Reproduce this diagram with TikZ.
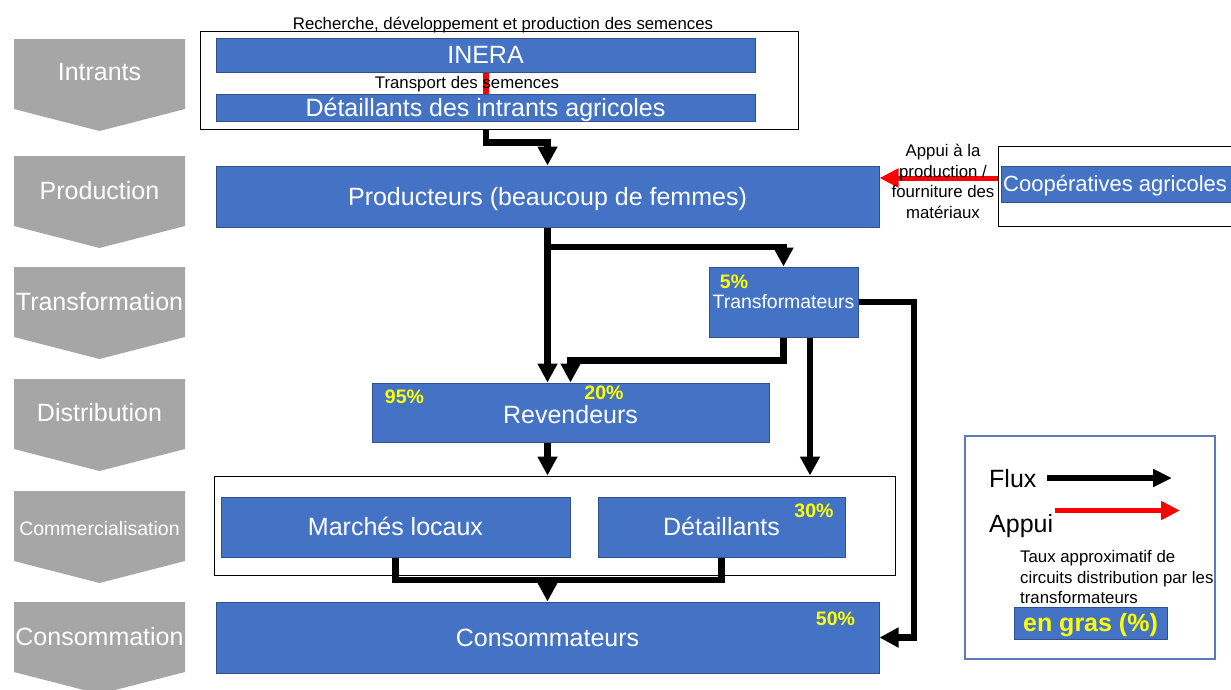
\documentclass[tikz,border=0pt]{standalone}
\usepackage{fontspec}
\setmainfont{Liberation Sans}
\usetikzlibrary{arrows.meta}
\definecolor{boxblue}{HTML}{4472C4}
\definecolor{boxedge}{HTML}{2F528F}
\definecolor{chevgray}{HTML}{A6A6A6}
\definecolor{pctyellow}{HTML}{FFFF00}
\definecolor{legendedge}{HTML}{5B7BB5}

\tikzset{
  actor/.style={draw=boxedge, line width=1pt, fill=boxblue, text=white, inner sep=0pt,
    font=\fontsize{25}{30}\selectfont, text height=17.9pt, text depth=0pt},
  groupframe/.style={draw=black, line width=1pt, fill=white, inner sep=0pt},
  flux/.style={draw=black, line width=6.5pt, line join=miter, -{Triangle[width=19pt,length=19pt]}},
  fluxline/.style={draw=black, line width=6.5pt, line join=miter},
  appui/.style={draw=red, line width=5pt, -{Triangle[width=18pt,length=19pt]}},
  pct/.style={text=pctyellow, inner sep=0pt, font=\fontsize{19.5}{23}\selectfont\bfseries,
    text height=14pt, text depth=0pt},
  smalltext/.style={text=black, inner sep=0pt, font=\fontsize{16.8}{20.5}\selectfont},
  smallline/.style={smalltext, text height=12pt, text depth=0pt},
  stagelabel/.style={text=white, inner sep=0pt, font=\fontsize{25}{30}\selectfont,
    text height=17.9pt, text depth=0pt},
}

\begin{document}
\begin{tikzpicture}[x=1pt,y=-1pt]
\useasboundingbox (0,0) rectangle (1231,689);
\clip (0,0) rectangle (1231,689);
\fill[white] (0,0) rectangle (1231,689);

% value-chain stages on the left
\foreach \t in {39,156,267,379,491,602}{
  \fill[chevgray] (14,\t) -- (185,\t) -- (185,\t+70) -- (99.5,\t+92) -- (14,\t+70) -- cycle;
}
\node[stagelabel] (sIntrants) at (99.5,72) {Intrants};
\node[stagelabel] (sProduction) at (99.5,191) {Production};
\node[stagelabel] (sTransformation) at (99.5,302) {Transformation};
\node[stagelabel] (sDistribution) at (99.5,413) {Distribution};
\node[stagelabel, font=\fontsize{19.5}{23}\selectfont, text height=14pt] (sCommercialisation) at (99.5,528) {Commercialisation};
\node[stagelabel] (sConsommation) at (99.5,637) {Consommation};

% inputs
\node[groupframe, minimum width=598pt, minimum height=98pt] (intrantsbox) at (499,80) {};
\node[smallline] (recherche) at (503,23.5) {Recherche, développement et production des semences};
\node[actor, minimum width=539pt, minimum height=34pt] (inera) at (485.5,55) {INERA};
\node[actor, minimum width=539pt, minimum height=27pt] (detint) at (485.5,107.5) {Détaillants des intrants agricoles};
\coordinate (seedx) at (486,0);
\draw[red, line width=6pt] (inera.south -| seedx) -- (detint.north -| seedx);
\node[smallline] (transport) at (467,82.5) {Transport des semences};

% production
\node[actor, minimum width=663pt, minimum height=61pt] (prod) at (547.5,196.5) {Producteurs (beaucoup de femmes)};

% cooperatives
\node[groupframe, minimum width=242pt, minimum height=80pt] (coopframe) at (1119,186) {};
\node[actor, minimum width=239pt, minimum height=36pt] (coop) at (1120.5,184) {};
\node[text=white, inner sep=0pt, anchor=west, font=\fontsize{22}{26}\selectfont,
  text height=15.75pt, text depth=0pt] (cooplabel) at (1003,184) {Coopératives agricoles};
\coordinate (appuiy) at (0,178);
\draw[appui] (coopframe.west |- appuiy) -- (prod.east |- appuiy);
\node[smalltext, align=center] (appuilabel) at (943,181.5) {Appui à la\\production /\\fourniture des\\matériaux};

% processing
\node[actor, minimum width=149pt, minimum height=70pt, font=\fontsize{19.4}{23}\selectfont, text height=13.9pt] (trans) at (783.5,302) {Transformateurs};
\node[pct] (p5) at (734,281.5) {5\%};

% distribution (label sits a little below the box centre)
\node[actor, minimum width=397pt, minimum height=59pt, text height=22.4pt] (rev) at (570.5,412.5) {Revendeurs};
\node[pct] (p95) at (404.5,396.5) {95\%};
\node[pct] (p20) at (604,392.5) {20\%};

% marketing
\node[groupframe, minimum width=681pt, minimum height=99pt] (commframe) at (554.5,525.5) {};
\node[actor, minimum width=349pt, minimum height=60pt] (marches) at (395.5,527) {Marchés locaux};
\node[actor, minimum width=247pt, minimum height=60pt] (detail) at (721.5,527) {Détaillants};
\node[pct] (p30) at (814,510) {30\%};

% consumption
\node[actor, minimum width=663pt, minimum height=71pt] (cons) at (547.5,637.5) {Consommateurs};
\node[pct] (p50) at (835.5,618.5) {50\%};

% flows
\draw[flux] (intrantsbox.south -| seedx) -- ++(0,13) -| (prod.north);
\draw[flux] (prod.south) -- (prod.south |- rev.north);
\coordinate (branchy) at (0,247);
\draw[flux] (prod.south |- branchy) -| (trans.north);
\draw[flux] (trans.south) -- ++(0,23) -| (rev.north);
\coordinate (transx) at (810,0);
\draw[flux] (trans.south -| transx) -- (commframe.north -| transx);
\coordinate (rightx) at (914,0);
\draw[flux] (trans.east) -- (trans.east -| rightx) |- (cons.east);
\draw[flux] (rev.south -| prod.south) -- (commframe.north -| prod.south);
\coordinate (joiny) at (0,580);
\draw[fluxline] (marches.south) -- (marches.south |- joiny) -- (detail.south |- joiny) -- (detail.south);
\draw[flux] (cons.north |- joiny) -- (cons.north);

% legend
\node[draw=legendedge, line width=1.5pt, inner sep=0pt, minimum width=250pt, minimum height=223pt] (legend) at (1090,547.5) {};
\node[text=black, inner sep=0pt, anchor=west, font=\fontsize{25}{30}\selectfont, text height=17.9pt, text depth=0pt] (lflux) at (989,478.5) {Flux};
\coordinate (lfluxa) at (1047,478);
\coordinate (lfluxb) at (1172,478);
\draw[draw=black, line width=6.5pt, -{Triangle[width=17pt,length=19pt]}] (lfluxa) -- (lfluxb);
\node[text=black, inner sep=0pt, anchor=west, font=\fontsize{25}{30}\selectfont, text height=17.9pt, text depth=0pt] (lappui) at (989,523.5) {Appui};
\coordinate (lappuia) at (1055,510.5);
\coordinate (lappuib) at (1180,510.5);
\draw[appui] (lappuia) -- (lappuib);
\node[smalltext, align=left, anchor=west] (ltaux) at (1020,577) {Taux approximatif de\\circuits distribution par les\\transformateurs};
\node[actor, minimum width=153pt, minimum height=32pt, text=pctyellow, font=\fontsize{25}{30}\selectfont\bfseries] (lgras) at (1090.5,623) {en gras (\%)};
\end{tikzpicture}
\end{document}
